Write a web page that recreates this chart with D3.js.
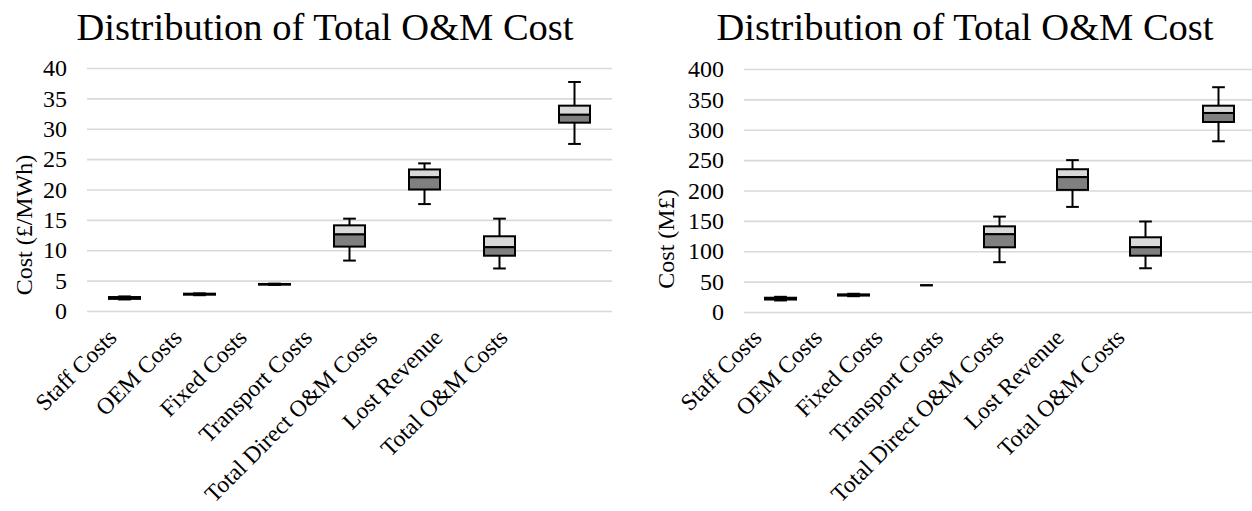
<!DOCTYPE html>
<html>
<head>
<meta charset="utf-8">
<script src="https://cdn.jsdelivr.net/npm/d3@7/dist/d3.min.js"></script>
<style>
  body { margin: 0; background: #fff; }
  svg text { font-family: "Liberation Serif", "Times New Roman", serif; fill: #000; }
</style>
</head>
<body>
<svg id="chart" width="1252" height="511"></svg>
<script>
// categories shared by both panels
const categories = ['Staff Costs', 'OEM Costs', 'Fixed Costs', 'Transport Costs',
  'Total Direct O&M Costs', 'Lost Revenue', 'Total O&M Costs'];

// left panel: cost per MWh
const mwhMin = [1.9, 2.6, 4.3, 8.3, 17.6, 7.0, 27.5];
const mwhQ1 = [2.0, 2.7, 4.35, 10.6, 20.0, 9.1, 31.0];
const mwhMed = [2.1, 2.75, 4.4, 12.6, 22.0, 10.5, 32.3];
const mwhQ3 = [2.3, 2.85, 4.45, 14.1, 23.3, 12.3, 33.8];
const mwhMax = [2.4, 2.9, 4.5, 15.2, 24.3, 15.2, 37.7];
const mwhTicks = [0, 5, 10, 15, 20, 25, 30, 35, 40];

// right panel: total cost in M£
const mMin = [19, 26, 44, 82, 173, 72, 281];
const mQ1 = [20.5, 27, 44, 106.5, 201, 92.7, 312.8];
const mMed = [22, 28, 44, 128, 222, 106.5, 327.6];
const mQ3 = [23.5, 29, 44, 141, 235, 123, 339.6];
const mMax = [25, 30, 44, 157, 250, 149, 370];
const mTicks = [0, 50, 100, 150, 200, 250, 300, 350, 400];

const svg = d3.select('#chart');

function drawPanel(o) {
  const g = svg.append('g');

  const x = d3.scaleBand().domain(categories).range([o.left, o.right]);
  const y = d3.scaleLinear().domain([0, d3.max(o.ticks)]).range([o.bottom, o.top]);
  // excel squeezed the rotated labels, so they get their own positions
  const xl = d3.scalePoint().domain(categories).range(o.labelRange);

  const rows = categories.map((c, i) => ({
    cat: c, min: o.min[i], q1: o.q1[i], med: o.med[i], q3: o.q3[i], max: o.max[i]
  }));

  // title
  g.append('text')
    .attr('x', o.titleX).attr('y', 40)
    .attr('text-anchor', 'middle')
    .style('font-size', '38.5px')
    .text('Distribution of Total O&M Cost');

  // grid + y labels
  const yAxis = d3.axisLeft(y).tickValues(o.ticks).tickSize(-(o.right - o.left)).tickPadding(20);
  const ya = g.append('g').attr('transform', `translate(${o.left},0)`).call(yAxis);
  ya.select('.domain').remove();
  ya.selectAll('.tick line').attr('stroke', '#d9d9d9').attr('stroke-width', 1.6);
  ya.selectAll('.tick text').style('font-size', '24px').attr('fill', '#000');

  g.append('text')
    .attr('transform', `translate(${o.yLabelX},${o.yLabelY}) rotate(-90)`)
    .attr('text-anchor', 'middle')
    .style('font-size', '24px')
    .text(o.yLabel);

  // category labels, rotated
  g.selectAll('.cat')
    .data(categories)
    .join('text')
    .attr('class', 'cat')
    .attr('text-anchor', 'end')
    .attr('transform', d => `translate(${xl(d)},${o.labelY}) rotate(-45)`)
    .style('font-size', '23.5px')
    .text(d => d);

  const cx = d => x(d.cat) + x.bandwidth() / 2;
  const boxW = 31, capW = 12.7;

  const b = g.selectAll('.box').data(rows).join('g').attr('class', 'box');

  // whiskers
  b.append('line')
    .attr('x1', cx).attr('x2', cx)
    .attr('y1', d => y(d.max)).attr('y2', d => y(d.min))
    .attr('stroke', '#000').attr('stroke-width', 2);
  b.selectAll('.cap')
    .data(d => [d.min, d.max].map(v => ({ v, c: cx(d) })))
    .join('line')
    .attr('class', 'cap')
    .attr('x1', d => d.c - capW / 2).attr('x2', d => d.c + capW / 2)
    .attr('y1', d => y(d.v)).attr('y2', d => y(d.v))
    .attr('stroke', '#000').attr('stroke-width', 2);

  // boxes (skip the ones that collapse to nothing)
  const bx = b.filter(d => d.q3 > d.q1);
  bx.append('rect')
    .attr('x', d => cx(d) - boxW / 2).attr('width', boxW)
    .attr('y', d => y(d.q3)).attr('height', d => y(d.med) - y(d.q3))
    .attr('fill', '#d9d9d9').attr('stroke', '#000').attr('stroke-width', 2);
  bx.append('rect')
    .attr('x', d => cx(d) - boxW / 2).attr('width', boxW)
    .attr('y', d => y(d.med)).attr('height', d => y(d.q1) - y(d.med))
    .attr('fill', '#808080').attr('stroke', '#000').attr('stroke-width', 2);
}

drawPanel({
  left: 87, right: 612, top: 68, bottom: 311,
  ticks: mwhTicks, min: mwhMin, q1: mwhQ1, med: mwhMed, q3: mwhQ3, max: mwhMax,
  titleX: 325, yLabel: 'Cost (£/MWh)', yLabelX: 32, yLabelY: 225,
  labelRange: [118, 509], labelY: 339
});

drawPanel({
  left: 744, right: 1255, top: 69, bottom: 312,
  ticks: mTicks, min: mMin, q1: mQ1, med: mMed, q3: mQ3, max: mMax,
  titleX: 965, yLabel: 'Cost (M£)', yLabelX: 674, yLabelY: 239,
  labelRange: [763, 1126], labelY: 339
});
</script>
</body>
</html>
